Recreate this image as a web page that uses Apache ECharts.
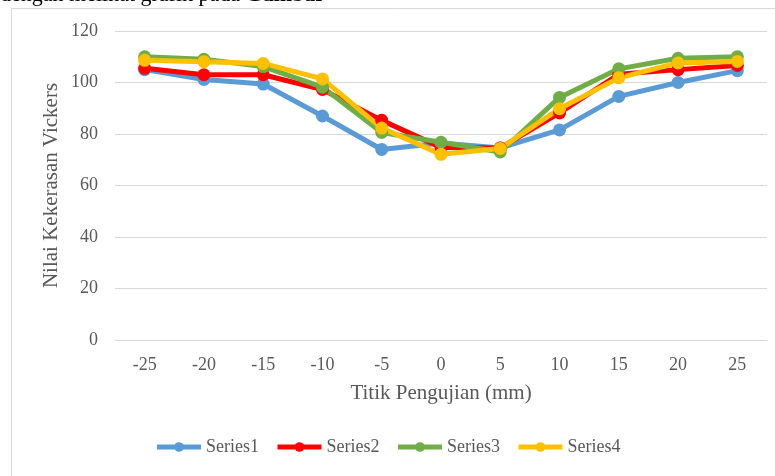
<!DOCTYPE html>
<html><head><meta charset="utf-8">
<script src="https://cdn.jsdelivr.net/npm/echarts@6/dist/echarts.min.js"></script>
<style>html,body{margin:0;padding:0;background:#fff}#c{width:775px;height:476px}</style>
</head><body><div id="c"></div>
<script>
const categories = ['-25','-20','-15','-10','-5','0','5','10','15','20','25'];
const series1 = [105, 101.2, 99.4, 87, 74, 76.5, 74.6, 81.6, 94.6, 100, 104.6];
const series2 = [105.5, 103, 103, 97.3, 85.3, 74.8, 74.6, 88.2, 103.2, 105, 106.6];
const series3 = [110, 109, 106.2, 98.2, 80.6, 76.8, 73, 94.2, 105.3, 109.4, 110];
const series4 = [108.6, 108.1, 107.4, 101.4, 82.3, 72.1, 74.4, 89.8, 101.8, 107.6, 108.2];
const seriesNames = ['Series1','Series2','Series3','Series4'];
const colors = ['#5B9BD5','#FF0000','#70AD47','#FFC000'];
const values = [series1, series2, series3, series4];

const chart = echarts.init(document.getElementById('c'));
const font = '"Liberation Serif", "Times New Roman", serif';
chart.setOption({
  animation: false,
  textStyle: {fontFamily: font},
  graphic: [
    {type:'rect', shape:{x:11.5,y:8.5,width:800,height:600}, style:{fill:'none', stroke:'#d9d9d9', lineWidth:1}, silent:true},
    {type:'text', left:0, top:-16, style:{text:'{n|dengan melihat grafik pada }{b|Gambar}', rich:{n:{fontFamily:font,fontSize:22,fill:'#000'}, b:{fontFamily:font,fontSize:22,fontWeight:'bold',fill:'#000'}}}}
  ],
  legend: {
    bottom: 15, left: 'center', itemWidth: 44, itemHeight: 12, itemGap: 16,
    lineStyle: {width: 5},
    textStyle: {fontFamily: font, fontSize: 18, color: '#595959'},
    data: seriesNames
  },
  grid: {left: 115, right: 8, top: 31, bottom: 136, containLabel: false},
  xAxis: {
    type: 'category', data: categories, boundaryGap: true,
    name: 'Titik Pengujian (mm)', nameLocation: 'middle', nameGap: 43,
    nameTextStyle: {fontFamily: font, fontSize: 21, color: '#595959'},
    axisLine: {lineStyle: {color: '#d9d9d9'}},
    axisTick: {show: false},
    axisLabel: {fontFamily: font, fontSize: 18, color: '#595959', margin: 16}
  },
  yAxis: {
    type: 'value', min: 0, max: 120, interval: 20,
    name: 'Nilai Kekerasan Vickers', nameLocation: 'middle', nameGap: 53,
    nameMoveOverlap: false,
    nameTextStyle: {fontFamily: font, fontSize: 21, color: '#595959'},
    axisLine: {show: false}, axisTick: {show: false},
    axisLabel: {fontFamily: font, fontSize: 18, color: '#595959', margin: 17},
    splitLine: {lineStyle: {color: '#d9d9d9', width: 1}}
  },
  series: values.map((v, i) => ({
    name: seriesNames[i], type: 'line', data: v,
    symbol: 'circle', symbolSize: 13,
    lineStyle: {width: 5, color: colors[i]},
    itemStyle: {color: colors[i]}
  }))
});
</script></body></html>
